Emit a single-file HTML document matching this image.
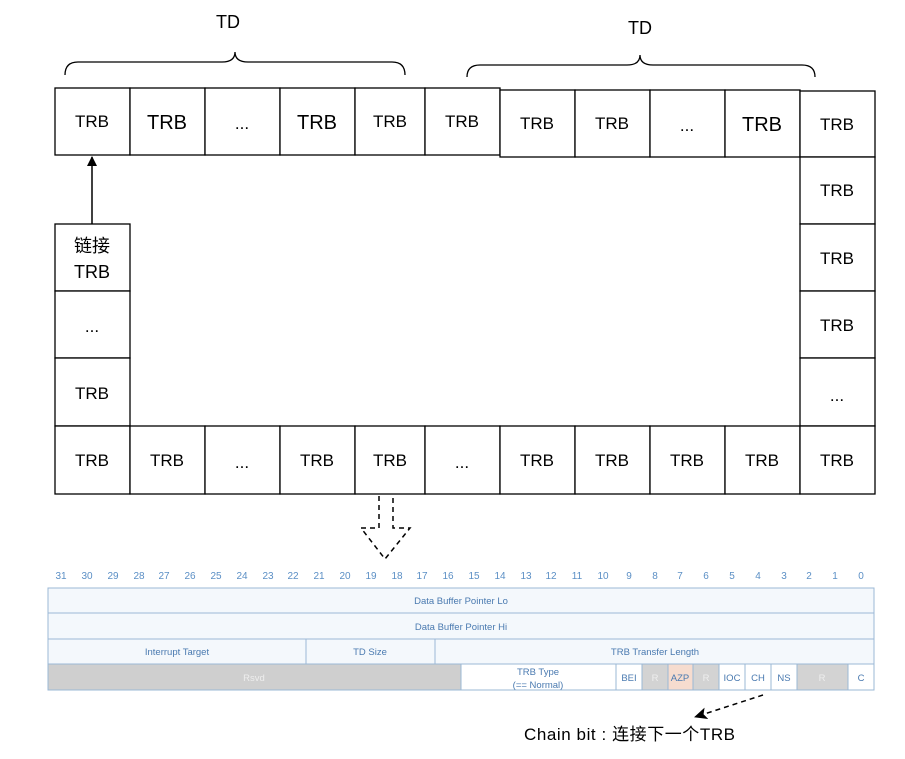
<!DOCTYPE html>
<html><head><meta charset="utf-8"><style>
body{margin:0;background:#fff;width:905px;height:759px;overflow:hidden;font-family:"Liberation Sans","Noto Sans CJK SC",sans-serif}
</style></head><body>
<svg width="905" height="759" xmlns="http://www.w3.org/2000/svg" style="position:absolute;left:0;top:0">
<defs><marker id="ah" markerWidth="10" markerHeight="10" refX="9" refY="5" orient="auto" markerUnits="userSpaceOnUse"><path d="M0,0 L10,5 L0,10 z" fill="#000"/></marker>
<marker id="ah2" markerWidth="14" markerHeight="12" refX="12" refY="6" orient="auto" markerUnits="userSpaceOnUse"><path d="M0,0 L13,6 L0,12 L3,6 z" fill="#000"/></marker></defs>
<g font-family="Liberation Sans, sans-serif" fill="#000" font-size="18" text-anchor="middle">
<text x="228" y="28">TD</text><text x="640" y="34">TD</text>
</g>
<path d="M65,75 Q65,62 78,62 L222,62 Q235,62 235,52 Q235,62 248,62 L392,62 Q405,62 405,75" fill="none" stroke="#000" stroke-width="1.3"/>
<path d="M467,77 Q467,65 480,65 L627,65 Q640,65 640,55 Q640,65 653,65 L802,65 Q815,65 815,77" fill="none" stroke="#000" stroke-width="1.3"/>
<g fill="#fff" stroke="#000" stroke-width="1.3">
<rect x="55" y="88" width="75" height="67"/><rect x="130" y="88" width="75" height="67"/><rect x="205" y="88" width="75" height="67"/><rect x="280" y="88" width="75" height="67"/><rect x="355" y="88" width="70" height="67"/><rect x="425" y="88" width="75" height="67"/>
<rect x="500" y="90" width="75" height="67"/><rect x="575" y="90" width="75" height="67"/><rect x="650" y="90" width="75" height="67"/><rect x="725" y="90" width="75" height="67"/><rect x="800" y="91" width="75" height="66"/>
<rect x="800" y="157" width="75" height="67"/><rect x="800" y="224" width="75" height="67"/><rect x="800" y="291" width="75" height="67"/><rect x="800" y="358" width="75" height="68"/>
<rect x="55" y="224" width="75" height="67"/><rect x="55" y="291" width="75" height="67"/><rect x="55" y="358" width="75" height="68"/>
<rect x="55" y="426" width="75" height="68"/><rect x="130" y="426" width="75" height="68"/><rect x="205" y="426" width="75" height="68"/><rect x="280" y="426" width="75" height="68"/><rect x="355" y="426" width="70" height="68"/><rect x="425" y="426" width="75" height="68"/><rect x="500" y="426" width="75" height="68"/><rect x="575" y="426" width="75" height="68"/><rect x="650" y="426" width="75" height="68"/><rect x="725" y="426" width="75" height="68"/><rect x="800" y="426" width="75" height="68"/>
</g>
<g font-family="Liberation Sans, sans-serif" fill="#000" font-size="17" text-anchor="middle">
<text x="92" y="127">TRB</text><text x="167" y="129" font-size="20">TRB</text><text x="242" y="129">...</text><text x="317" y="129" font-size="20">TRB</text><text x="390" y="127">TRB</text><text x="462" y="127">TRB</text>
<text x="537" y="129">TRB</text><text x="612" y="129">TRB</text><text x="687" y="131">...</text><text x="762" y="131" font-size="20">TRB</text><text x="837" y="130">TRB</text>
<text x="837" y="196">TRB</text><text x="837" y="264">TRB</text><text x="837" y="331">TRB</text><text x="837" y="401">...</text>
<text x="92" y="252" font-family="Liberation Sans, Noto Sans CJK SC, sans-serif" font-size="18">链接</text><text x="92" y="278" font-size="18">TRB</text>
<text x="92" y="332">...</text><text x="92" y="399">TRB</text>
<text x="92" y="466">TRB</text><text x="167" y="466">TRB</text><text x="242" y="468">...</text><text x="317" y="466">TRB</text><text x="390" y="466">TRB</text><text x="462" y="468">...</text><text x="537" y="466">TRB</text><text x="612" y="466">TRB</text><text x="687" y="466">TRB</text><text x="762" y="466">TRB</text><text x="837" y="466">TRB</text>
</g>
<line x1="92" y1="224" x2="92" y2="157" stroke="#000" stroke-width="1.5" marker-end="url(#ah)"/>
<path d="M379,496 L379,528 L361,528 L385,559 L410,528 L393,528 L393,496" fill="none" stroke="#000" stroke-width="1.5" stroke-dasharray="5,4"/>
<g font-family="Liberation Sans, sans-serif" font-size="10" fill="#5b8fc5" text-anchor="middle">
<text x="61" y="579">31</text><text x="87" y="579">30</text><text x="113" y="579">29</text><text x="139" y="579">28</text><text x="164" y="579">27</text><text x="190" y="579">26</text><text x="216" y="579">25</text><text x="242" y="579">24</text><text x="268" y="579">23</text><text x="293" y="579">22</text><text x="319" y="579">21</text><text x="345" y="579">20</text><text x="371" y="579">19</text><text x="397" y="579">18</text><text x="422" y="579">17</text><text x="448" y="579">16</text><text x="474" y="579">15</text><text x="500" y="579">14</text><text x="526" y="579">13</text><text x="551" y="579">12</text><text x="577" y="579">11</text><text x="603" y="579">10</text><text x="629" y="579">9</text><text x="655" y="579">8</text><text x="680" y="579">7</text><text x="706" y="579">6</text><text x="732" y="579">5</text><text x="758" y="579">4</text><text x="784" y="579">3</text><text x="809" y="579">2</text><text x="835" y="579">1</text><text x="861" y="579">0</text>
</g>
<g stroke="#9bb8d6" stroke-width="1">
<rect x="48" y="588" width="826" height="25" fill="#f4f8fc"/>
<rect x="48" y="613" width="826" height="26" fill="#f4f8fc"/>
<rect x="48" y="639" width="258" height="25" fill="#f4f8fc"/>
<rect x="306" y="639" width="129" height="25" fill="#f4f8fc"/>
<rect x="435" y="639" width="439" height="25" fill="#f4f8fc"/>
<rect x="48" y="664" width="413" height="26" fill="#cfcfcf"/>
<rect x="461" y="664" width="155" height="26" fill="#fff"/>
<rect x="616" y="664" width="26" height="26" fill="#fff"/>
<rect x="642" y="664" width="26" height="26" fill="#d3d3d3"/>
<rect x="668" y="664" width="25" height="26" fill="#f6dccf"/>
<rect x="693" y="664" width="26" height="26" fill="#d3d3d3"/>
<rect x="719" y="664" width="26" height="26" fill="#fff"/>
<rect x="745" y="664" width="26" height="26" fill="#fff"/>
<rect x="771" y="664" width="26" height="26" fill="#fff"/>
<rect x="797" y="664" width="51" height="26" fill="#d3d3d3"/>
<rect x="848" y="664" width="26" height="26" fill="#fff"/>
</g>
<g font-family="Liberation Sans, sans-serif" font-size="9.5" fill="#4a7ab0" text-anchor="middle">
<text x="461" y="604">Data Buffer Pointer Lo</text>
<text x="461" y="630">Data Buffer Pointer Hi</text>
<text x="177" y="655">Interrupt Target</text>
<text x="370" y="655">TD Size</text>
<text x="655" y="655">TRB Transfer Length</text>
<text x="254" y="681" fill="#eee">Rsvd</text>
<text x="538" y="675">TRB Type</text><text x="538" y="688">(== Normal)</text>
<text x="629" y="681">BEI</text><text x="655" y="681" fill="#eee">R</text><text x="680" y="681">AZP</text><text x="706" y="681" fill="#eee">R</text><text x="732" y="681">IOC</text><text x="758" y="681">CH</text><text x="784" y="681">NS</text><text x="822" y="681" fill="#eee">R</text><text x="861" y="681">C</text>
</g>
<line x1="763" y1="695" x2="695" y2="717" stroke="#000" stroke-width="1.5" stroke-dasharray="5,4" marker-end="url(#ah2)"/>
<text x="524" y="740" font-family="Liberation Sans, Noto Sans CJK SC, sans-serif" font-size="17" textLength="211" fill="#000">Chain bit : 连接下一个TRB</text>
</svg>
</body></html>
